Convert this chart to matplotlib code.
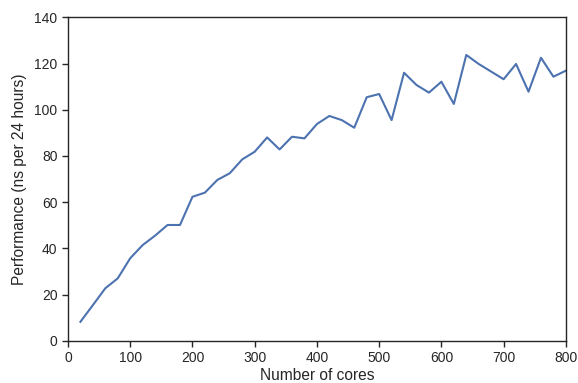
import matplotlib
matplotlib.use("Agg")
import matplotlib.pyplot as plt

# plotting defaults
plt.rcParams.update(
    {
        "font.family": ["Liberation Sans", "DejaVu Sans"],
        "font.size": 10,
        "axes.labelsize": 11.2,
        "axes.linewidth": 1.0,
        "axes.edgecolor": "#262626",
        "axes.labelcolor": "#262626",
        "text.color": "#262626",
        "xtick.color": "#262626",
        "ytick.color": "#262626",
        "xtick.direction": "out",
        "ytick.direction": "out",
        "xtick.major.size": 4,
        "ytick.major.size": 4,
        "xtick.major.width": 1,
        "ytick.major.width": 1,
    }
)

cores = [20, 40, 60, 80, 100, 120, 140, 160, 180, 200,
         220, 240, 260, 280, 300, 320, 340, 360, 380, 400,
         420, 440, 460, 480, 500, 520, 540, 560, 580, 600,
         620, 640, 660, 680, 700, 720, 740, 760, 780, 800]
performance = [8.2, 15.4, 22.7, 27.0, 35.7, 41.4, 45.5, 50.1, 50.1, 62.3,
               64.1, 69.6, 72.5, 78.5, 81.8, 88.0, 82.8, 88.3, 87.6, 93.8,
               97.3, 95.5, 92.2, 105.4, 106.8, 95.5, 116.0, 110.7, 107.4, 112.1,
               102.5, 123.7, 119.8, 116.5, 113.2, 119.8, 107.8, 122.5, 114.3, 116.9]

fig = plt.figure(figsize=(5.78, 3.83), dpi=100)
ax = fig.add_axes([0.1176, 0.1104, 0.8614, 0.8444])

ax.plot(cores, performance, color="#4c72b0", linewidth=1.5)

ax.set_xlim(0, 800)
ax.set_ylim(0, 140)
ax.set_xticks(range(0, 801, 100))
ax.set_yticks(range(0, 141, 20))
ax.set_xlabel("Number of cores", labelpad=2)
ax.set_ylabel("Performance (ns per 24 hours)", labelpad=5)

fig.savefig("out.png", dpi=100)
